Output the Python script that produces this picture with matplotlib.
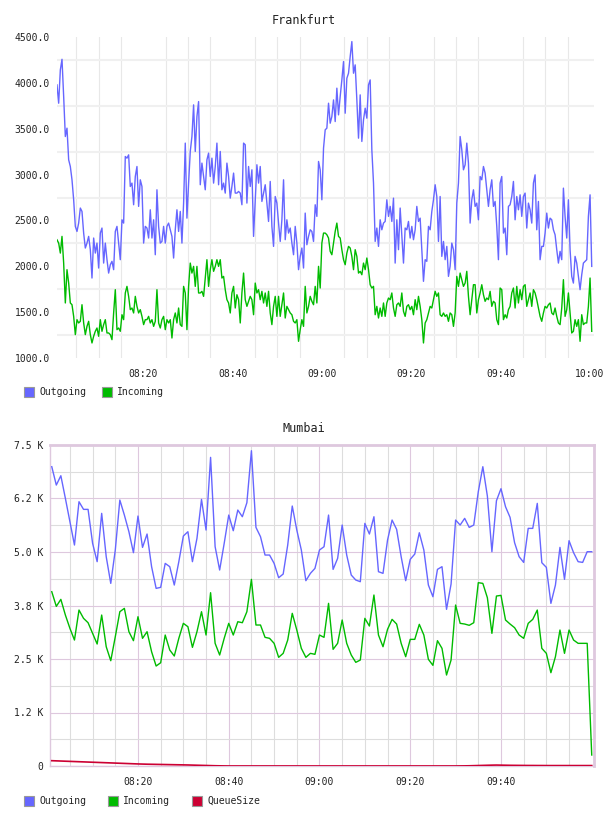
import matplotlib
matplotlib.use("Agg")
import matplotlib.pyplot as plt
from matplotlib.patches import Rectangle
from matplotlib.ticker import FixedLocator, FuncFormatter
import numpy as np

# ---------------- Frankfurt data (minutes after 08:00) ----------------
fra_start_min = 0.69
fra_step_min = 0.3729
fra_outgoing = [
    3978,3778,4141,4257,3851,3415,3506,3161,3088,2943,
    2725,2435,2380,2471,2635,2598,2362,2199,2253,2326,
    2181,1872,2308,2144,2253,1981,2362,2417,2035,2253,
    2072,1926,2017,2054,1963,2380,2435,2253,2072,2507,
    2471,3197,3179,3215,2870,2907,2671,2979,3088,2653,
    2943,2870,2253,2435,2417,2308,2616,2308,2507,2126,
    2834,2435,2253,2271,2435,2253,2435,2471,2398,2326,
    2090,2398,2616,2380,2598,2253,2689,3343,2525,2907,
    3252,
    3415,3760,3252,3633,3796,2889,3125,2979,2834,3161,
    3234,2979,3179,2907,3088,3343,2889,3252,2834,2907,
    2798,3125,2979,2743,2870,3016,2798,2798,2816,2798,
    2671,3343,3325,2689,3088,2870,3052,2326,2725,3107,
    2907,3088,2707,2798,2889,2689,2489,2925,2435,2217,
    2761,2689,2471,2271,2507,2943,2290,2507,2362,2417,
    2253,2126,2435,2253,1963,2108,2199,1981,2580,2235,
    2326,2398,2380,2271,2671,2544,3143,3052,2725,3288,
    3488,
    3506,3778,3560,3633,3814,3578,3942,3651,3851,4032,
    4232,3669,4050,4105,4287,4450,4105,4196,3814,3397,
    3869,3361,3597,3724,3615,3978,4032,3270,2907,2271,
    2417,2217,2507,2398,2471,2489,2725,2544,2653,2489,
    2743,2035,2507,2181,2635,2326,2035,2417,2398,2489,
    2308,2435,2290,2398,2653,2489,2525,2181,1836,2072,
    2054,2435,2398,2598,2725,2889,2761,2271,2761,2108,
    2271,2072,2217,1890,2000,2253,2181,1963,2689,2907,
    3415,
    3270,3052,3107,3343,3125,2471,2725,2834,2653,2689,
    2507,2979,2943,3088,3016,2834,2653,2834,2943,2653,
    2707,2435,2072,2907,2979,2362,2417,2126,2653,2671,
    2761,2925,2507,2761,2616,2779,2544,2761,2798,2417,
    2689,2616,2471,2907,2997,2398,2707,2072,2217,2217,
    2362,2580,2417,2525,2507,2398,2344,2181,2035,2163,
    2072,2852,2544,2308,2725,2181,1890,1817,2108,2035,
    1890,1745,1908,2035,2054,2072,2544,2779,1999,
]
fra_incoming = [
    2289,2253,2144,2326,2035,1600,1963,1817,1600,1581,
    1454,1255,1418,1382,1400,1581,1382,1255,1345,1400,
    1255,1164,1237,1291,1327,1237,1418,1291,1364,1418,
    1273,1273,1255,1200,1491,1745,1309,1327,1291,1472,
    1418,1709,1781,1672,1527,1545,1491,1672,1563,1491,
    1527,1454,1364,1418,1418,1454,1382,1418,1345,1400,
    1745,1382,1327,1418,1454,1309,1418,1382,1418,1218,
    1418,1491,1382,1545,1364,1345,1781,1709,1309,1781,
    2035,
    1926,1999,1781,1999,1709,1709,1727,1672,1872,2072,
    1781,1963,2072,1945,1999,2072,1999,2072,1872,1890,
    1745,1636,1600,1491,1709,1781,1545,1690,1636,1382,
    1709,1926,1636,1563,1618,1672,1636,1472,1817,1709,
    1745,1636,1727,1600,1709,1563,1727,1491,1364,1563,
    1672,1454,1672,1454,1581,1709,1436,1563,1527,1491,
    1472,1400,1382,1418,1182,1309,1418,1345,1781,1491,
    1563,1672,1618,1581,1781,1600,1999,1763,2253,2362,
    2362,
    2344,2308,2163,2126,2253,2380,2471,2326,2308,2181,
    2072,2017,2144,2217,2199,2108,1963,2181,2108,1926,
    1945,1908,2035,1963,2090,1963,1799,1763,1781,1472,
    1563,1436,1545,1454,1600,1454,1600,1654,1636,1709,
    1545,1454,1581,1600,1563,1709,1509,1454,1563,1581,
    1527,1563,1472,1636,1527,1672,1563,1418,1164,1382,
    1418,1491,1563,1545,1636,1727,1672,1709,1472,1454,
    1491,1454,1472,1400,1491,1472,1345,1491,1890,1781,
    1926,
    1854,1781,1817,1945,1672,1472,1636,1799,1799,1491,
    1636,1709,1799,1690,1618,1654,1636,1727,1563,1618,
    1600,1418,1364,1763,1745,1418,1472,1436,1527,1563,
    1709,1763,1545,1781,1600,1745,1636,1781,1799,1563,
    1636,1709,1563,1745,1709,1636,1545,1454,1400,1491,
    1563,1545,1581,1600,1491,1472,1545,1454,1382,1364,
    1545,1854,1454,1527,1709,1491,1273,1291,1418,1345,
    1418,1182,1472,1364,1382,1382,1563,1872,1291,
]

# ---------------- Mumbai data (one point per minute, 08:01 .. 10:00) ----------------
mum_start_min = 1
mum_outgoing = [
    6993,6564,6782,6253,5708,5163,6175,5996,5996,5202,
    4774,5903,4890,4267,5046,6214,5863,5474,4984,5840,
    5108,5420,4657,4150,4174,4734,4657,4228,4774,5373,
    5474,4774,5319,6229,5513,7211,5124,4579,5202,5863,
    5497,5980,5824,6152,7366,5575,5358,4929,4929,4734,
    4399,4485,5163,6074,5513,5046,
    4330,4501,4617,5046,5124,5863,4594,4851,5630,4929,
    4462,4345,4306,5669,5420,5824,4540,4501,5279,5747,
    5529,4890,4330,4828,4952,5450,5046,4228,3955,4594,
    4657,3660,4252,5747,5630,5786,5575,5630,6409,6993,
    6307,5007,6198,6479,6058,5809,5217,4890,4757,5552,
    5552,6136,4750,4641,3800,4228,5108,4361,5264,4984,
    4774,4757,5007,5007,
]
mum_incoming = [
    4072,3730,3893,3527,3216,2943,3644,3450,3348,3099,
    2850,3527,2787,2460,3021,3605,3683,3138,2928,3488,
    2983,3138,2670,2336,2413,3060,2710,2570,2983,3333,
    3255,2772,3138,3605,3060,4049,2866,2593,2983,3333,
    3060,3371,3348,3605,4361,3294,3294,3006,2983,2866,
    2539,2632,2943,3567,3177,2749,
    2539,2632,2609,3060,3006,3800,2726,2866,3411,2866,
    2593,2422,2476,3450,3270,3995,3060,2787,3193,3426,
    3317,2866,2554,2959,2959,3310,3060,2492,2352,2928,
    2749,2126,2476,3761,3333,3317,3287,3348,4283,4267,
    3932,3099,3971,3987,3411,3317,3232,3060,2983,3333,
    3426,3644,2749,2632,2180,2554,3177,2632,3177,2943,
    2866,2866,2866,257,
]
mum_queue = [
    124,120,116,112,108,104,100,96,92,88,
    84,80,76,72,68,64,60,56,52,48,
    45,42,40,38,36,34,32,30,28,26,
    24,21,18,15,12,9,6,4,2,1,
    1,1,1,1,1,1,1,1,1,1,
    1,1,1,1,1,1,1,1,1,1,
    1,1,1,1,1,1,1,1,1,1,
    1,1,1,1,1,1,1,1,1,1,
    1,1,1,1,1,1,1,1,1,1,
    2,3,5,8,11,14,17,20,22,20,
    18,16,15,14,13,12,12,11,11,10,
    10,10,10,10,10,10,10,10,10,10,
]

fra_yticks = [1000, 1500, 2000, 2500, 3000, 3500, 4000, 4500]
fra_ygrid = [1250, 1750, 2250, 2750, 3250, 3750, 4250]
mum_yticks = [0, 1250, 2500, 3750, 5000, 6250, 7500]
mum_ylabels = ["0", "1.2 K", "2.5 K", "3.8 K", "5.0 K", "6.2 K", "7.5 K"]
mum_yminor = [625, 1875, 3125, 4375, 5625, 6875]
fra_xticks = [20, 40, 60, 80, 100, 120]
mum_xticks = [20, 40, 60, 80, 100]
grid5 = list(range(5, 121, 5))

C_OUT = "#6666ff"
C_IN = "#00bb00"
C_Q = "#cc0033"
FONT = "DejaVu Sans Mono"

plt.rcParams["font.family"] = FONT

W, H = 608, 816
fig = plt.figure(figsize=(W / 100, H / 100), dpi=100)
fig.patch.set_facecolor("white")


def fx(px):
    return px / W


def fy(py):
    return 1 - py / H


def hhmm(m, pos=None):
    m = int(round(m))
    return f"{8 + m // 60:02d}:{m % 60:02d}"


# ---------------- Frankfurt ----------------
ax1 = fig.add_axes([fx(57), fy(358), fx(594) - fx(57), fy(37) - fy(358)])
t1 = fra_start_min + fra_step_min * np.arange(len(fra_outgoing))
ax1.plot(t1, fra_outgoing, color=C_OUT, lw=1.0, zorder=3)
ax1.plot(t1, fra_incoming, color=C_IN, lw=1.0, zorder=3)
ax1.set_xlim(0.69, 120.9)
ax1.set_ylim(1000, 4500)
for s in ax1.spines.values():
    s.set_visible(False)
ax1.yaxis.set_major_locator(FixedLocator(fra_yticks))
ax1.yaxis.set_minor_locator(FixedLocator(fra_ygrid))
ax1.yaxis.set_major_formatter(FuncFormatter(lambda v, p: f"{v:.1f}"))
ax1.xaxis.set_major_locator(FixedLocator(fra_xticks))
ax1.xaxis.set_minor_locator(FixedLocator(grid5))
ax1.xaxis.set_major_formatter(FuncFormatter(hhmm))
ax1.grid(False)
ax1.grid(True, which="minor", axis="y", color="#f0f0f0", lw=1.5, zorder=0)
ax1.grid(True, which="minor", axis="x", color="#e8e8e8", lw=0.8, zorder=0)
ax1.tick_params(which="both", length=0)
ax1.tick_params(axis="y", pad=5, labelsize=7, labelcolor="#222222")
ax1.tick_params(axis="x", pad=8, labelsize=7, labelcolor="#222222")
fig.text(0.5, fy(20), "Frankfurt", ha="center", va="center", fontsize=8.5, color="#222222")

# ---------------- Mumbai ----------------
PINK = "#dec8de"
ax2 = fig.add_axes([fx(50), fy(766), fx(594) - fx(50), fy(445) - fy(766)])
t2 = mum_start_min + np.arange(len(mum_outgoing))
ax2.plot(t2, mum_outgoing, color=C_OUT, lw=1.0, zorder=3)
ax2.plot(t2, mum_incoming, color=C_IN, lw=1.0, zorder=3)
ax2.plot(t2, mum_queue, color=C_Q, lw=1.2, zorder=4)
ax2.set_xlim(0.61, 120.5)
ax2.set_ylim(0, 7500)
for name, s in ax2.spines.items():
    s.set_color(PINK)
    s.set_linewidth(2.0 if name in ("top", "right") else 1.0)
ax2.yaxis.set_major_locator(FixedLocator(mum_yticks))
ax2.yaxis.set_minor_locator(FixedLocator(mum_yminor))
ax2.set_yticklabels(mum_ylabels)
ax2.xaxis.set_major_locator(FixedLocator(mum_xticks))
ax2.xaxis.set_minor_locator(FixedLocator([g for g in grid5 if g % 20 != 0 and g < 120]))
ax2.xaxis.set_major_formatter(FuncFormatter(hhmm))
ax2.grid(True, which="major", color=PINK, lw=0.8, zorder=1)
ax2.grid(True, which="minor", color="#dddddd", lw=0.8, zorder=0)
ax2.tick_params(which="both", length=0)
ax2.tick_params(axis="y", pad=5, labelsize=7, labelcolor="#222222")
ax2.tick_params(axis="x", pad=8, labelsize=7, labelcolor="#222222")
fig.text(0.5, fy(428), "Mumbai", ha="center", va="center", fontsize=8.5, color="#222222")

# ---------------- Legends ----------------
def legend_item(x, y, color, label):
    fig.add_artist(Rectangle((fx(x), fy(y + 10)), 10 / W, 10 / H, transform=fig.transFigure,
                             facecolor=color, edgecolor="#999999", lw=0.8))
    fig.text(fx(x + 15), fy(y + 5), label, ha="left", va="center", fontsize=7, color="#222222")


legend_item(24, 387, C_OUT, "Outgoing")
legend_item(102, 387, C_IN, "Incoming")
legend_item(24, 796, C_OUT, "Outgoing")
legend_item(108, 796, C_IN, "Incoming")
legend_item(192, 796, C_Q, "QueueSize")

fig.savefig("out.png", dpi=100, facecolor="white")
